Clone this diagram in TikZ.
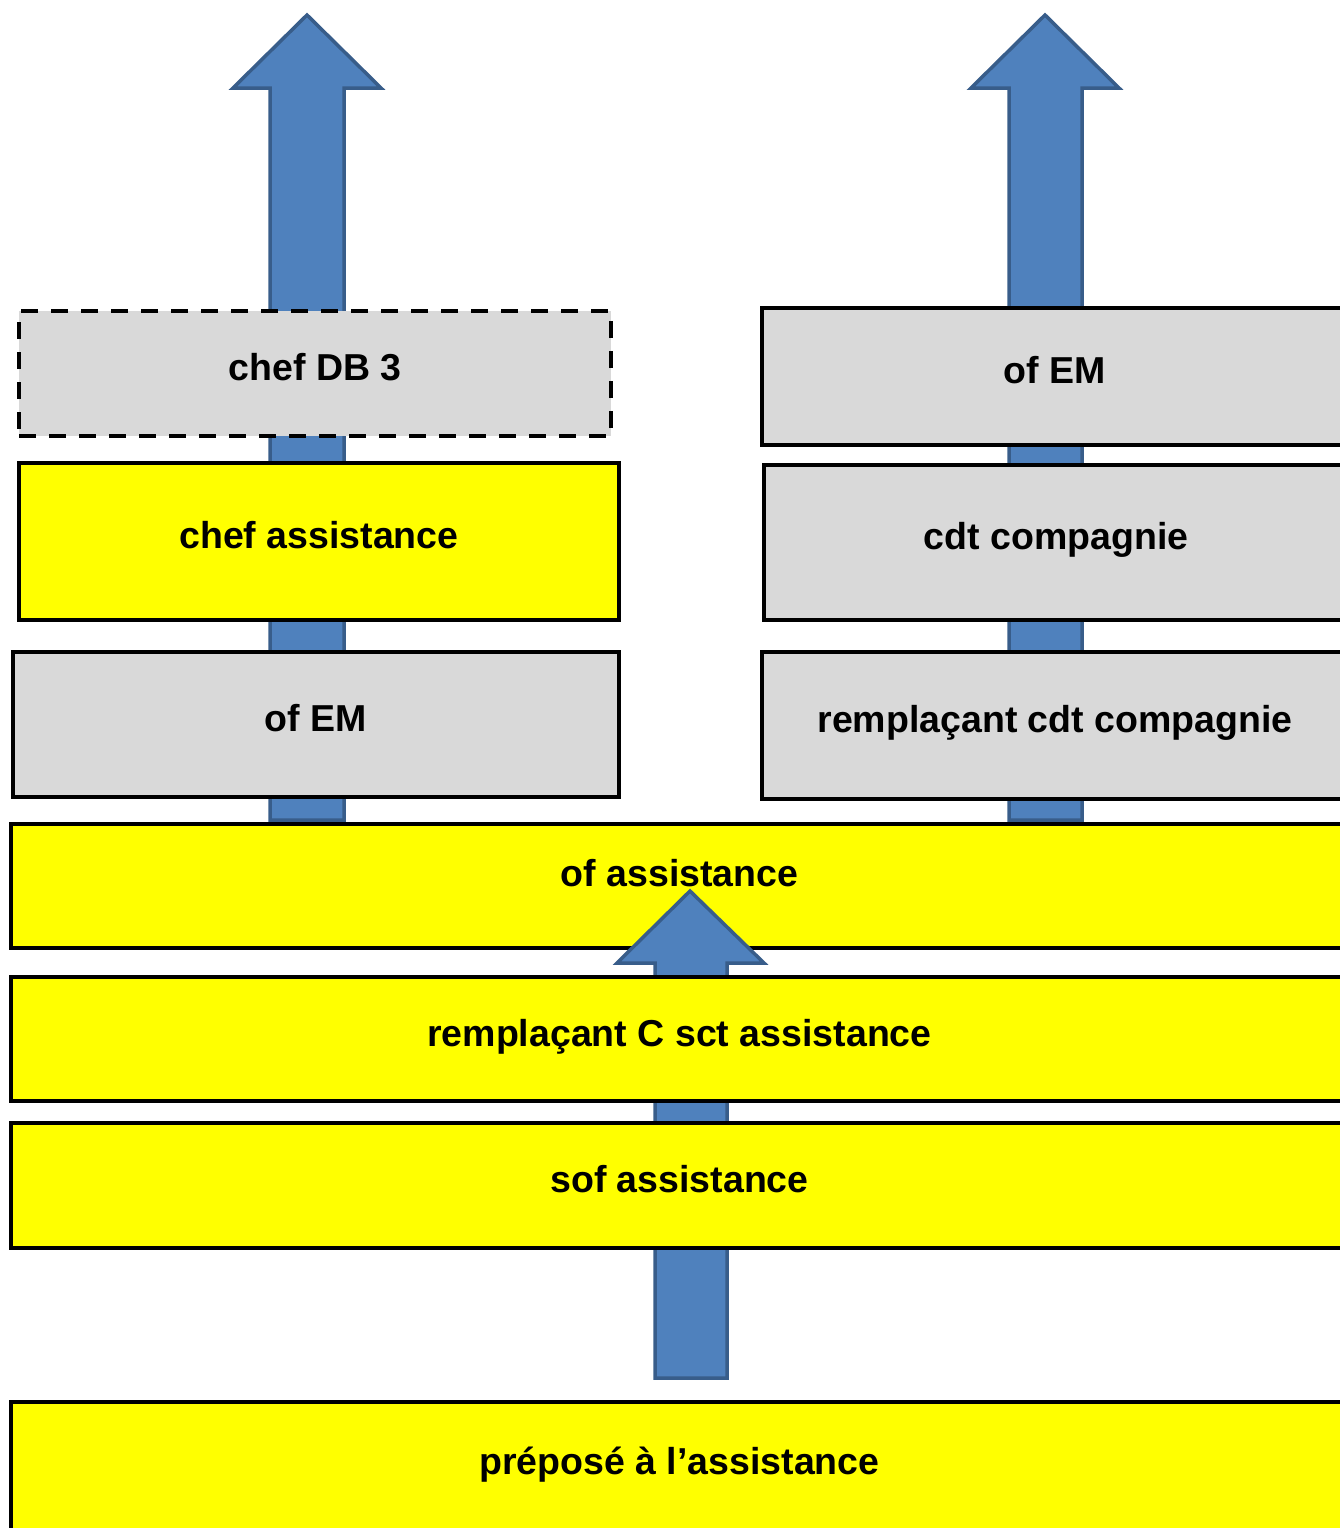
\documentclass[tikz,border=0pt]{standalone}
\usepackage{fontspec}
\setmainfont{Liberation Sans}
\usepackage{tikz}
\definecolor{arrowfill}{RGB}{79,129,189}
\definecolor{arrowline}{RGB}{56,93,138}
\definecolor{boxgray}{RGB}{217,217,217}
\definecolor{boxyellow}{RGB}{255,255,0}
\begin{document}
\begin{tikzpicture}[x=1pt,y=-1pt]
            \tikzstyle{rank}=[rectangle, line width=4.5pt, draw=black, inner sep=0pt, font=\fontsize{37.5}{40}\selectfont\bfseries, text height=27pt, text depth=13pt]
            \tikzstyle{grayrank}=[rank, fill=boxgray]
            \tikzstyle{yellowrank}=[rank, fill=boxyellow]
            \tikzstyle{interim}=[grayrank, dash pattern=on 17pt off 13pt]
            \tikzstyle{blockarrow}=[fill=arrowfill, draw=arrowline, line width=3.5pt, line join=miter]
            \useasboundingbox (0,0) rectangle (1340,1528);
            \clip (0,0) rectangle (1340,1528);
            \draw[blockarrow] (307,15) -- (381,88) -- (344,88) -- (344,820) -- (270,820) -- (270,88) -- (233,88) -- cycle;
            \draw[blockarrow] (1045,15) -- (1119,88) -- (1082,88) -- (1082,820) -- (1009,820) -- (1009,88) -- (971,88) -- cycle;
            {\node[interim, minimum width=592, minimum height=125] (chefdb) at (315,373.5){chef DB 3};
            \node[yellowrank, minimum width=600, minimum height=157] (chefassist) at (319,541.5){chef assistance};
            \node[grayrank, minimum width=606, minimum height=145] (ofemL) at (316,724.5){of EM};
            \node[grayrank, minimum width=586, minimum height=137] (ofemR) at (1055,376.5){of EM};
            \node[grayrank, minimum width=584, minimum height=155] (cdt) at (1056,542.5){cdt compagnie};
            \node[grayrank, minimum width=586, minimum height=147] (rempcdt) at (1055,725.5){remplaçant cdt compagnie};
            \node[yellowrank, minimum width=1337, minimum height=124, text depth=27pt] (ofassist) at (679.5,886){of assistance};}
            \draw[blockarrow] (690,891) -- (764,963) -- (727,963) -- (727,1378) -- (655,1378) -- (655,963) -- (617,963) -- cycle;
            {\node[yellowrank, minimum width=1337, minimum height=124] (rempsct) at (679.5,1039){remplaçant C sct assistance};
            \node[yellowrank, minimum width=1337, minimum height=125] (sof) at (679.5,1185.5){sof assistance};
            \node[yellowrank, minimum width=1337, minimum height=131] (prepose) at (679.5,1467.5){préposé à l’assistance};}
        \end{tikzpicture}
\end{document}
